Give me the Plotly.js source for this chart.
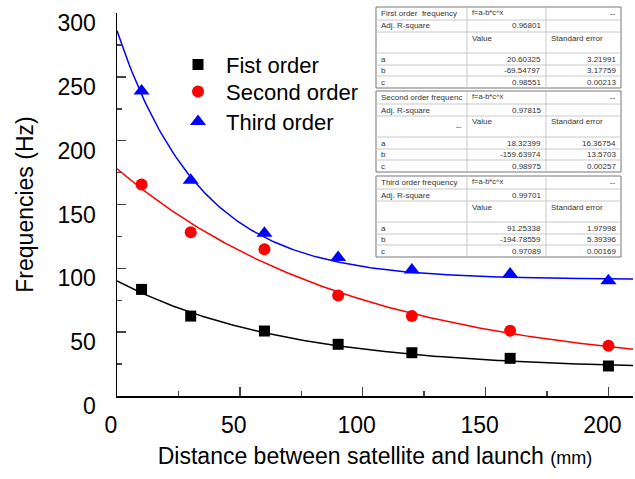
<!DOCTYPE html>
<html>
<head>
<meta charset="utf-8">
<script src="https://cdn.plot.ly/plotly-3.0.1.min.js"></script>
<style>html,body{margin:0;padding:0;background:#fff;}#chart{width:635px;height:479px;}</style>
</head>
<body>
<div id="chart"></div>
<script>
// ---- data ----
const distances = [10, 30, 60, 90, 120, 160, 200];
const firstOrder = [83.5, 62.6, 50.9, 40.5, 33.9, 29.5, 23.5];
const secondOrder = [165.6, 128.3, 115.0, 78.8, 62.6, 51.1, 39.4];
const thirdOrder = [238.9, 169.0, 127.5, 108.5, 98.6, 95.5, 90.2];
const seriesNames = ["Fist order", "Second order", "Third order"];

// fit parameters f = a - b*c^x (as printed in the tables)
const fitA = [20.60325, 18.32399, 91.25338];
const fitB = [-69.54797, -159.63974, -194.78559];
const fitC = [0.98551, 0.98975, 0.97089];
const fitAErr = ["3.21991", "16.36754", "1.97998"];
const fitBErr = ["3.17759", "13.5703", "5.39396"];
const fitCErr = ["0.00213", "0.00257", "0.00169"];
const fitAStr = ["20.60325", "18.32399", "91.25338"];
const fitBStr = ["-69.54797", "-159.63974", "-194.78559"];
const fitCStr = ["0.98551", "0.98975", "0.97089"];
const adjR2 = ["0.96801", "0.97815", "0.99701"];
const tableTitles = ["First order  frequency", "Second order frequenc", "Third order frequency"];

const colors = ["#000000", "#ff0000", "#0000ff"];
const symbols = ["square", "circle", "triangle-up"];
const msizes = [11, 12, 14];
const allY = [firstOrder, secondOrder, thirdOrder];
const legendIds = ["legend", "legend2", "legend3"];

// ---- fit curves ----
const fitX = [];
for (let x = 0; x <= 210; x += 1) fitX.push(x);

const traces = [];
for (let i = 0; i < 3; i++) {
  traces.push({
    x: fitX, y: fitX.map(x => fitA[i] - fitB[i] * Math.pow(fitC[i], x)),
    mode: "lines", line: {color: colors[i], width: 1.5},
    showlegend: false, hoverinfo: "skip"
  });
}
for (let i = 0; i < 3; i++) {
  traces.push({
    x: distances, y: allY[i], name: seriesNames[i],
    mode: "markers", marker: {color: colors[i], symbol: symbols[i], size: msizes[i]},
    showlegend: true, legend: legendIds[i]
  });
}

// ---- plot geometry (pixels) ----
const L = 117, R = 633, T = 13, B = 396;
const px = v => (v - L) / (R - L);
const py = v => (B - v) / (B - T);

// ---- tables drawn with shapes/annotations ----
const shapes = [], annotations = [];
const cx = [376, 467, 546, 621];
const tops = [7, 91, 176];
const rowOff = [0, 13, 25, 46, 58, 69, 81];
const tf = {family: "Liberation Sans, Arial, sans-serif", size: 8, color: "#333"};
function line(x0, y0, x1, y1, c, w) {
  shapes.push({type: "line", xref: "paper", yref: "paper", x0: px(x0), y0: py(y0), x1: px(x1), y1: py(y1), line: {color: c, width: w}, layer: "above"});
}
function txt(x, y, s, anchor, size) {
  const f = Object.assign({}, tf);
  if (size) f.size = size;
  annotations.push({xref: "paper", yref: "paper", x: px(x), y: py(y), text: s, showarrow: false, xanchor: anchor, yanchor: "middle", font: f});
}
for (let t = 0; t < 3; t++) {
  const top = tops[t];
  const yy = rowOff.map(o => top + o);
  shapes.push({type: "rect", xref: "paper", yref: "paper", x0: px(cx[0]), x1: px(cx[3]), y0: py(yy[6]), y1: py(yy[0]), fillcolor: "#ffffff", line: {color: "#777", width: 1}, layer: "above"});
  for (let r = 1; r < 6; r++) line(cx[0], yy[r], cx[3], yy[r], "#c8c8c8", 1);
  for (let c = 1; c < 3; c++) line(cx[c], yy[0], cx[c], yy[6], "#c8c8c8", 1);
  const mid = r => (yy[r] + yy[r + 1]) / 2;
  txt(cx[0] + 3, mid(0), tableTitles[t], "left");
  txt(cx[1] + 3, mid(0) - 1, "f=a-b*c^x", "left", 7.5);
  txt(cx[3] - 3, mid(0), "--", "right");
  txt(cx[0] + 3, mid(1), "Adj. R-square", "left");
  txt(cx[2] - 3, mid(1), adjR2[t], "right");
  txt(cx[1] + 3, yy[2] + 6, "Value", "left");
  txt(cx[2] + 3, yy[2] + 6, "Standard error", "left");
  if (t === 1) txt(cx[1] - 3, yy[2] + 10, "--", "right");
  const labs = ["a", "b", "c"];
  const vals = [fitAStr[t], fitBStr[t], fitCStr[t]];
  const errs = [fitAErr[t], fitBErr[t], fitCErr[t]];
  for (let k = 0; k < 3; k++) {
    txt(cx[0] + 3, mid(3 + k), labs[k], "left");
    txt(cx[2] - 3, mid(3 + k), vals[k], "right");
    txt(cx[3] - 3, mid(3 + k), errs[k], "right");
  }
}

const font = {family: "Liberation Sans, Arial, sans-serif", size: 23, color: "#000"};
function mkLegend(topPx) {
  return {x: px(170), y: py(topPx), xanchor: "left", yanchor: "top", bgcolor: "rgba(0,0,0,0)",
          font: {family: font.family, size: 22, color: "#000"}, itemwidth: 46};
}
const layout = {
  width: 635, height: 479,
  margin: {l: L, r: 635 - R, t: T, b: 479 - B, pad: 0},
  paper_bgcolor: "#fff", plot_bgcolor: "#fff",
  font: font,
  showlegend: true,
  legend: mkLegend(43.7),
  legend2: mkLegend(70.7),
  legend3: mkLegend(100.7),
  xaxis: {
    range: [0, 210], tickvals: [0, 50, 100, 150, 200], ticks: "inside", ticklen: 9, tickwidth: 1.5,
    showline: true, linewidth: 1.5, linecolor: "#000", showgrid: false, zeroline: false,
    minor: {tickvals: [25, 75, 125, 175], ticks: "inside", ticklen: 5, tickwidth: 1.5},
    ticklabelstandoff: 8, ticklabelshift: -6, tickfont: {size: 23},
    title: {text: "Distance between satellite and launch <span style=\"font-size:18px\">(mm)</span>", font: {size: 23}, standoff: 11}
  },
  yaxis: {
    range: [0, 300], tickvals: [0, 50, 100, 150, 200, 250, 300], ticks: "inside", ticklen: 9, tickwidth: 1.5,
    showline: true, linewidth: 1.5, linecolor: "#000", showgrid: false, zeroline: false,
    minor: {tickvals: [25, 75, 125, 175, 225, 275], ticks: "inside", ticklen: 5, tickwidth: 1.5},
    ticklabelstandoff: 15, ticklabelshift: 10, tickfont: {size: 23},
    title: {text: "Frequencies (Hz)", font: {size: 23}, standoff: 17}
  },
  shapes: shapes,
  annotations: annotations
};
Plotly.newPlot("chart", traces, layout, {displayModeBar: false, staticPlot: true});
</script>
</body>
</html>
